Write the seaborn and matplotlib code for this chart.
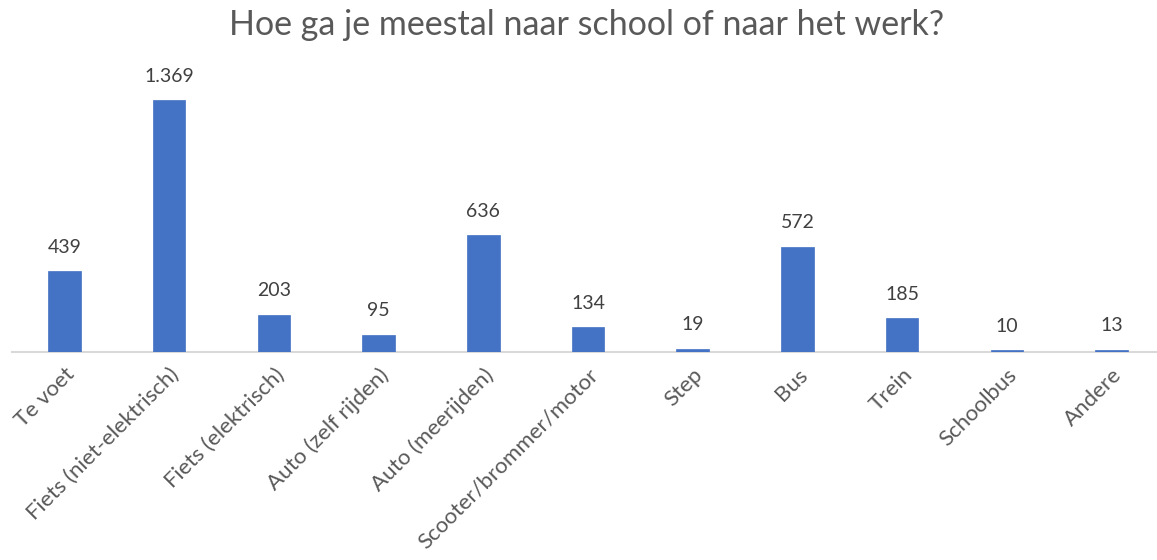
import matplotlib
matplotlib.use("Agg")
import matplotlib.pyplot as plt
import seaborn as sns
import pandas as pd

categories = ["Te voet", "Fiets (niet-elektrisch)", "Fiets (elektrisch)",
              "Auto (zelf rijden)", "Auto (meerijden)", "Scooter/brommer/motor",
              "Step", "Bus", "Trein", "Schoolbus", "Andere"]
counts = [439, 1369, 203, 95, 636, 134, 19, 572, 185, 10, 13]
value_labels = ["439", "1.369", "203", "95", "636", "134", "19", "572", "185", "10", "13"]

sns.set_theme(style="white")
plt.rcParams["font.family"] = ["Lato", "DejaVu Sans"]

df = pd.DataFrame({"mode": categories, "count": counts})

fig = plt.figure(figsize=(11.57, 5.6), dpi=100)
ax = fig.add_axes([12 / 1157, 208 / 560, 1152 / 1157, 294.5 / 560])

sns.barplot(data=df, x="mode", y="count", color="#4472C4", width=0.31,
            saturation=1, ax=ax, zorder=3, edgecolor="#4472C4", linewidth=0.5)

ax.set_ylim(0, 1600)
ax.set_xlim(-0.5, len(categories) - 0.5)
ax.set_yticks([])
ax.set_xlabel("")
ax.set_ylabel("")
for side in ["top", "right", "left"]:
    ax.spines[side].set_visible(False)
ax.spines["bottom"].set_color("#d9d9d9")
ax.spines["bottom"].set_linewidth(1.5)
ax.spines["bottom"].set_zorder(1)

for i, (v, lab) in enumerate(zip(counts, value_labels)):
    ax.annotate(lab, (i, v), xytext=(0, 11), textcoords="offset points",
                ha="center", va="bottom", fontsize=14, color="#404040")

ax.tick_params(axis="x", length=0, pad=9)
ax.set_xticks(range(len(categories)))
ax.set_xticklabels(categories, rotation=45, ha="right", rotation_mode="anchor",
                   fontsize=16, color="#595959")

fig.text(587 / 1157, 1 - 25 / 560, "Hoe ga je meestal naar school of naar het werk?",
         ha="center", va="center", fontsize=24.5, color="#595959")

fig.savefig("out.png", dpi=100)
